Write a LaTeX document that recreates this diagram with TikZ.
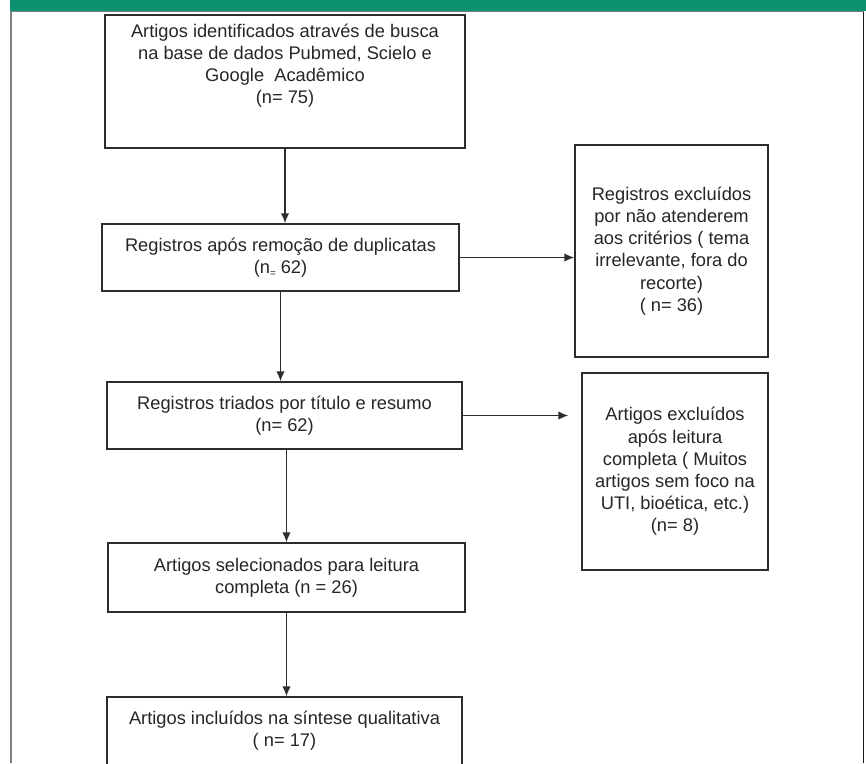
\documentclass[tikz,border=0pt]{standalone}
\usepackage{fontspec}
\setmainfont{Liberation Sans}
\usetikzlibrary{positioning}
\usetikzlibrary{arrows.meta}
\usepackage{xcolor}

\definecolor{bandgreen}{RGB}{11,145,110}
\definecolor{boxgray}{RGB}{45,45,45}
\newcommand{\pxu}{0.025cm}

\begin{document}
\begin{tikzpicture}[x=0.025cm,y=-0.025cm,
  box/.style={draw=boxgray, line width=1.1pt, rectangle, align=center, inner sep=0pt,
    font=\fontsize{13}{15.8}\selectfont, text=black!85},
  txt/.style={align=center, inner sep=0pt, font=\fontsize{13}{15.8}\selectfont, text=black!85},
  arr/.style={draw=boxgray, line width=1pt, -{Latex[length=7pt,width=6pt]}}]

\useasboundingbox (0,0) rectangle (866,763);
\clip (0,0) rectangle (866,763);

% frame
\fill[bandgreen] (10,0) rectangle (866,11);
\draw[gray, line width=1pt] (11,11.5)--(863.5,11.5);
\draw[gray, line width=1.1pt] (11,11)--(11,763);
\draw[black!90, line width=1.1pt] (863.5,11.5)--(863.5,763);

% left column
\node[box, minimum width=360*\pxu, minimum height=133*\pxu] (ident) at (285,81.5) {};
\node[txt] (identtxt) at (285,65.5) {Artigos identificados através de busca\\na base de dados Pubmed, Scielo e\\Google~ Acadêmico\\(n= 75)};

\node[box, minimum width=357*\pxu, minimum height=67*\pxu] (dupl) at (280.5,257.5) {Registros após remoção de duplicatas\\(n\raisebox{-.3ex}{\scriptsize=} 62)};

\node[box, minimum width=355*\pxu, minimum height=67*\pxu] (triad) at (284.5,415.5) {Registros triados por título e resumo\\(n= 62)};

\node[box, minimum width=357*\pxu, minimum height=69*\pxu] (selec) at (286.5,577.5) {Artigos selecionados para leitura\\completa (n = 26)};

\node[box, minimum width=355*\pxu, minimum height=68*\pxu] (incl) at (284.5,731) {Artigos incluídos na síntese qualitativa\\( n= 17)};

% right column
\node[box, minimum width=193*\pxu, minimum height=212*\pxu] (excl1) at (671.5,251) {Registros excluídos\\por não atenderem\\aos critérios ( tema\\irrelevante, fora do\\recorte)\\( n= 36)};

\node[box, minimum width=186*\pxu, minimum height=197*\pxu] (excl2) at (675,471.5) {Artigos excluídos\\após leitura\\completa ( Muitos\\artigos sem foco na\\UTI, bioética, etc.)\\(n= 8)};

% arrows
\draw[arr] (ident.south) -- (ident.south |- dupl.north);
\draw[arr] (dupl.east) -- (dupl.east -| excl1.west);
\draw[arr] (dupl.south) -- (dupl.south |- triad.north);
\draw[arr, shorten >=13*\pxu] (triad.east) -- (triad.east -| excl2.west);
\draw[arr] (triad.south -| selec.north) -- (selec.north);
\draw[arr] (selec.south) -- (selec.south |- incl.north);

\end{tikzpicture}
\end{document}
